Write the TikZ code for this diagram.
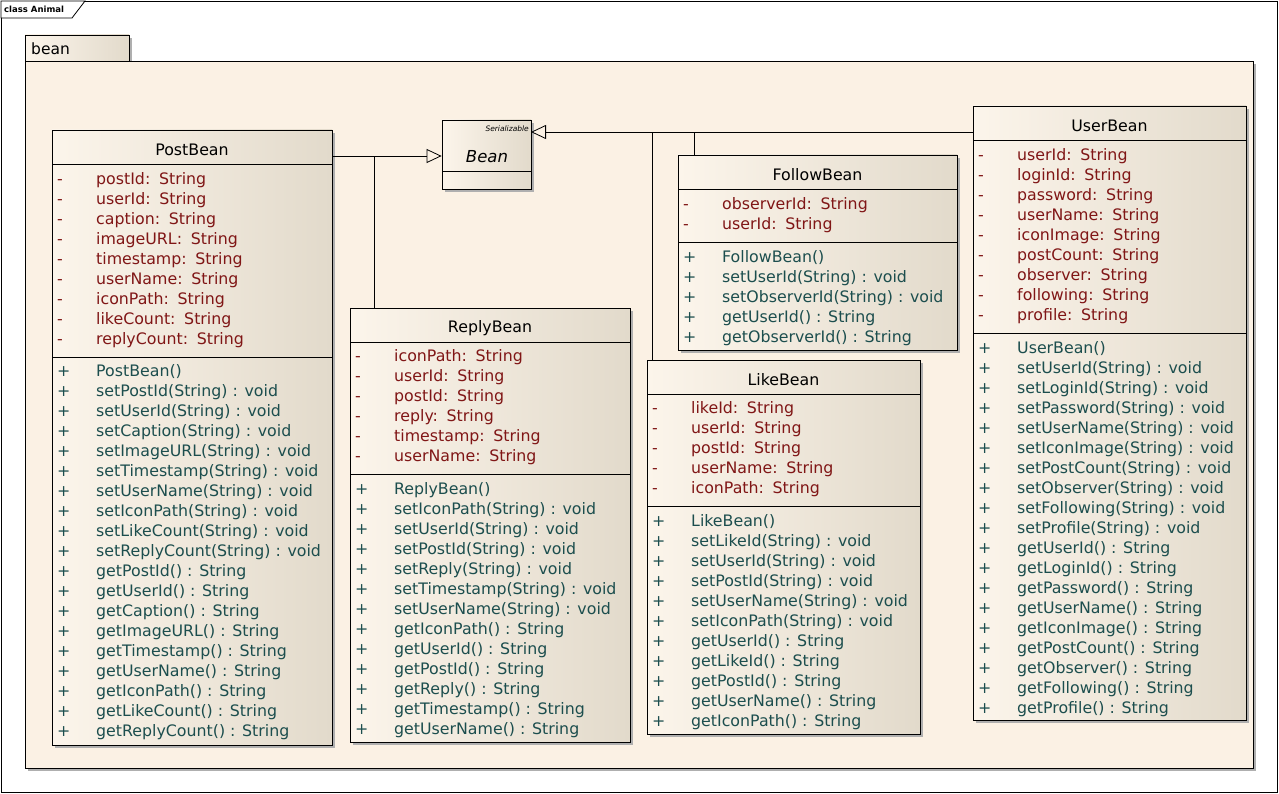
\documentclass[tikz,border=0pt]{standalone}
\usepackage{fontspec}
\setmainfont{DejaVu Sans}
\usetikzlibrary{arrows.meta,fit,calc}
\definecolor{pkgfill}{RGB}{251,241,228}
\definecolor{boxlight}{RGB}{252,245,235}
\definecolor{boxdark}{RGB}{226,218,203}
\definecolor{shadowgray}{RGB}{175,175,175}
\definecolor{attrcol}{RGB}{128,22,22}
\definecolor{opcol}{RGB}{28,78,78}
\tikzset{
  umlbox/.style={draw=black, line width=0.8pt, inner sep=0pt, left color=boxlight, right color=boxdark},
  shadowfill/.style={fill=shadowgray},
  titletext/.style={font=\fontsize{15.8}{18}\selectfont, text=black, inner sep=0pt},
  attrtext/.style={font=\fontsize{15.8}{18}\selectfont, text=attrcol, inner sep=0pt, anchor=west},
  optext/.style={font=\fontsize{15.8}{18}\selectfont, text=opcol, inner sep=0pt, anchor=west},
  gen/.style={draw=black, line width=0.8pt, -{Triangle[open, length=15pt, width=14pt]}},
  conn/.style={draw=black, line width=0.8pt},
}
\newcommand\umlclass[8]{% name, x1, y1, x2, y2, title, sep1, sep2
  \fill[shadowfill] (#2+3,#3+3) rectangle (#4+3,#5+3);
  \node[umlbox, fit={(#2,#3) (#4,#5)}] (#1) {};
  \node[titletext] (#1-title) at ({(#2+#4)/2}, {(#3+#7)/2+3}) {#6};
  \draw[line width=0.8pt] (#2,#7) -- (#4,#7);
  \draw[line width=0.8pt] (#2,#8) -- (#4,#8);
}
\newcommand\umlmembers[6]{% prefix, x1, ystart, marker, style, list
  \foreach \t [count=\i] in {#6} {
    \node[#5] (#1-\i) at (#2+5, #3+20*\i-18) {\makebox[39pt][l]{#4}\t};
  }
}
\newcommand\sep{:\hspace{0.55em}}
\begin{document}
\begin{tikzpicture}[x=1pt, y=-1pt]
\useasboundingbox (0,0) rectangle (1279,794);
\fill[white] (0,0) rectangle (1279,794);
% outer frame
\draw[line width=0.8pt] (1,1) rectangle (1277,792);
\draw[line width=0.8pt, fill=white] (1,1) -- (1,18) -- (72,18) -- (85,1) -- cycle;
\node[anchor=west, inner sep=0pt, font=\fontsize{8.5}{10}\selectfont\bfseries] (framelabel) at (4,9.5) {class Animal};
% package
\fill[shadowfill] (28,64) rectangle (1256,771);
\fill[shadowfill] (28,38) rectangle (132,64);
\node[draw=black, line width=0.8pt, inner sep=0pt, left color=boxlight, right color=boxdark, fit={(25,35) (129,61)}] (pkgtab) {};
\node[draw=black, line width=0.8pt, inner sep=0pt, fill=pkgfill, fit={(25,61) (1253,768)}] (pkg) {};
\node[anchor=west, inner sep=0pt, font=\fontsize{15.5}{17}\selectfont] (pkgname) at (31,49) {bean};
% Bean interface
\fill[shadowfill] (445,123) rectangle (534,192);
\node[umlbox, fit={(442,120) (531,189)}] (Bean) {};
\draw[line width=0.8pt] (442,171) -- (531,171);
\node[anchor=east, inner sep=0pt, font=\fontsize{7.5}{8}\selectfont\itshape] (Bean-stereo) at (529,129) {Serializable};
\node[inner sep=0pt, font=\fontsize{16.5}{18}\selectfont\itshape] (Bean-title) at (487,157) {Bean};
% PostBean
\umlclass{PostBean}{52}{130}{332}{745}{PostBean}{164}{357}
\umlmembers{PostBean-a}{52}{178}{-}{attrtext}{{postId\sep String},{userId\sep String},{caption\sep String},{imageURL\sep String},{timestamp\sep String},{userName\sep String},{iconPath\sep String},{likeCount\sep String},{replyCount\sep String}}
\umlmembers{PostBean-o}{52}{370}{+}{optext}{{PostBean()},{setPostId(String) : void},{setUserId(String) : void},{setCaption(String) : void},{setImageURL(String) : void},{setTimestamp(String) : void},{setUserName(String) : void},{setIconPath(String) : void},{setLikeCount(String) : void},{setReplyCount(String) : void},{getPostId() : String},{getUserId() : String},{getCaption() : String},{getImageURL() : String},{getTimestamp() : String},{getUserName() : String},{getIconPath() : String},{getLikeCount() : String},{getReplyCount() : String}}
% ReplyBean
\umlclass{ReplyBean}{350}{308}{630}{742}{ReplyBean}{342}{474}
\umlmembers{ReplyBean-a}{350}{355}{-}{attrtext}{{iconPath\sep String},{userId\sep String},{postId\sep String},{reply\sep String},{timestamp\sep String},{userName\sep String}}
\umlmembers{ReplyBean-o}{350}{488}{+}{optext}{{ReplyBean()},{setIconPath(String) : void},{setUserId(String) : void},{setPostId(String) : void},{setReply(String) : void},{setTimestamp(String) : void},{setUserName(String) : void},{getIconPath() : String},{getUserId() : String},{getPostId() : String},{getReply() : String},{getTimestamp() : String},{getUserName() : String}}
% LikeBean
\umlclass{LikeBean}{647}{360}{920}{734}{LikeBean}{394}{506}
\umlmembers{LikeBean-a}{647}{407}{-}{attrtext}{{likeId\sep String},{userId\sep String},{postId\sep String},{userName\sep String},{iconPath\sep String}}
\umlmembers{LikeBean-o}{647}{520}{+}{optext}{{LikeBean()},{setLikeId(String) : void},{setUserId(String) : void},{setPostId(String) : void},{setUserName(String) : void},{setIconPath(String) : void},{getUserId() : String},{getLikeId() : String},{getPostId() : String},{getUserName() : String},{getIconPath() : String}}
% FollowBean
\umlclass{FollowBean}{678}{155}{957}{350}{FollowBean}{189}{242}
\umlmembers{FollowBean-a}{678}{203}{-}{attrtext}{{observerId\sep String},{userId\sep String}}
\umlmembers{FollowBean-o}{678}{256}{+}{optext}{{FollowBean()},{setUserId(String) : void},{setObserverId(String) : void},{getUserId() : String},{getObserverId() : String}}
% UserBean
\umlclass{UserBean}{973}{106}{1246}{720}{UserBean}{140}{333}
\umlmembers{UserBean-a}{973}{154}{-}{attrtext}{{userId\sep String},{loginId\sep String},{password\sep String},{userName\sep String},{iconImage\sep String},{postCount\sep String},{observer\sep String},{following\sep String},{profile\sep String}}
\umlmembers{UserBean-o}{973}{347}{+}{optext}{{UserBean()},{setUserId(String) : void},{setLoginId(String) : void},{setPassword(String) : void},{setUserName(String) : void},{setIconImage(String) : void},{setPostCount(String) : void},{setObserver(String) : void},{setFollowing(String) : void},{setProfile(String) : void},{getUserId() : String},{getLoginId() : String},{getPassword() : String},{getUserName() : String},{getIconImage() : String},{getPostCount() : String},{getObserver() : String},{getFollowing() : String},{getProfile() : String}}
% connectors
\coordinate (jL) at (374,156);
\coordinate (tipR) at (531,132);
\coordinate (jLike) at (652,132);
\coordinate (jFollow) at (694,132);
\draw[gen] (PostBean.north east |- jL) -- (Bean.west |- jL);
\draw[conn] (ReplyBean.north west -| jL) -- (jL);
\draw[gen] (UserBean.north west |- tipR) -- (tipR);
\draw[conn] (LikeBean.north west -| jLike) -- (jLike);
\draw[conn] (FollowBean.north west -| jFollow) -- (jFollow);
\end{tikzpicture}
\end{document}
